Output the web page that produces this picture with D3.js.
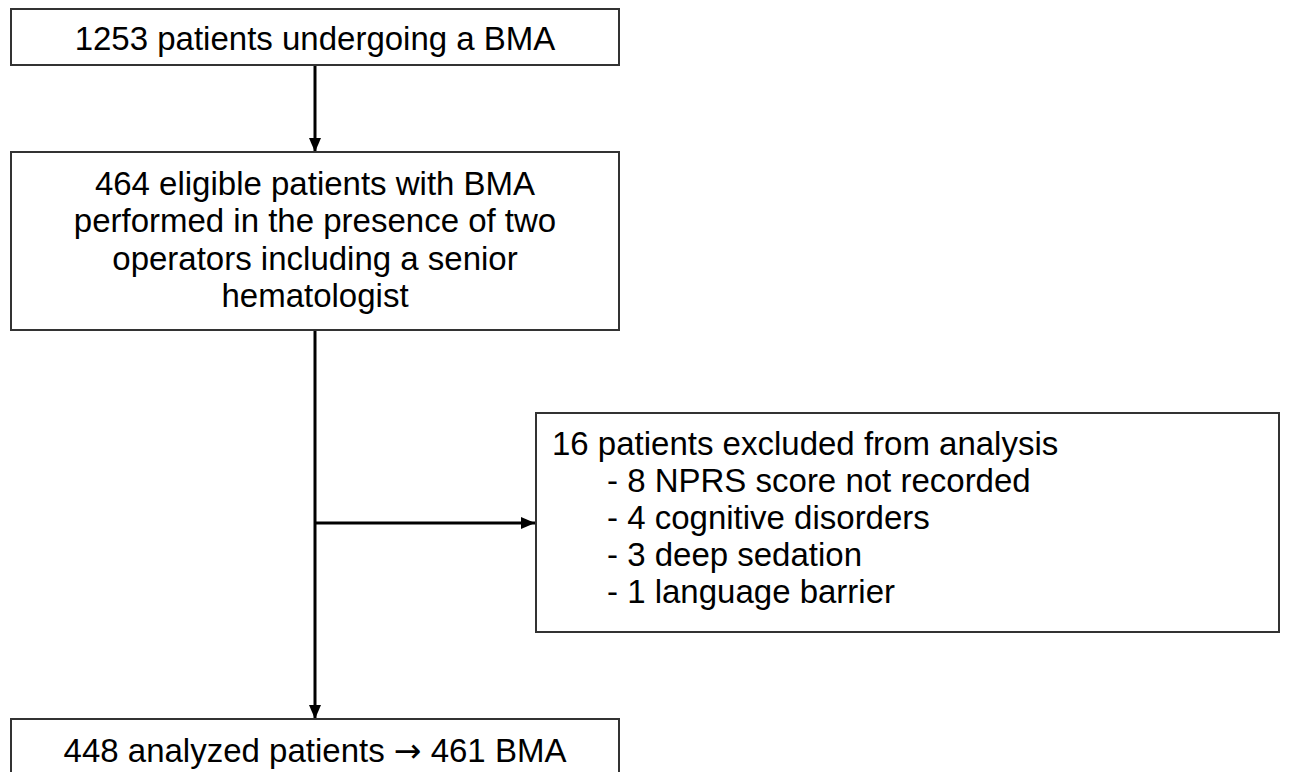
<!DOCTYPE html>
<html>
<head>
<meta charset="utf-8">
<script src="https://cdn.jsdelivr.net/npm/d3@7"></script>
<style>
  body { margin: 0; background: #fff; }
  svg { display: block; }
  .box { fill: #fff; stroke: #333; stroke-width: 2; }
  .flow { stroke: #000; stroke-width: 3; fill: none; }
  text { font-family: "Liberation Sans", Arial, sans-serif; font-size: 33px; fill: #000; }
  .sym { font-family: "DejaVu Sans", sans-serif; }
</style>
</head>
<body>
<script>
// flowchart texts
const screenedLines = ['1253 patients undergoing a BMA'];
const eligibleLines = [
    '464 eligible patients with BMA',
    'performed in the presence of two',
    'operators including a senior',
    'hematologist'
];
const excludedHeader = ['16 patients excluded from analysis'];
const exclusionReasons = [
    '- 8 NPRS score not recorded',
    '- 4 cognitive disorders',
    '- 3 deep sedation',
    '- 1 language barrier'
];
const analyzedLines = ['448 analyzed patients \u2192 461 BMA'];

const width = 1289, height = 772;

// layout of the boxes (pixels)
const layout = {
    screened: { x: 11, y: 9, w: 608, h: 56, firstBaseline: 50, step: 37.3, anchor: 'middle' },
    eligible: { x: 11, y: 152, w: 608, h: 178, firstBaseline: 195, step: 37.3, anchor: 'middle' },
    excluded: { x: 536, y: 413, w: 743, h: 219, firstBaseline: 455, step: 37, anchor: 'start' },
    analyzed: { x: 11, y: 719, w: 608, h: 80, firstBaseline: 762, step: 37, anchor: 'middle' }
};

const svg = d3.select('body').append('svg')
    .attr('width', width)
    .attr('height', height);

svg.append('defs').append('marker')
    .attr('id', 'head')
    .attr('viewBox', '0 0 14 12')
    .attr('refX', 14)
    .attr('refY', 6)
    .attr('markerUnits', 'userSpaceOnUse')
    .attr('markerWidth', 14)
    .attr('markerHeight', 12)
    .attr('orient', 'auto')
    .append('path')
    .attr('d', 'M0,0 L14,6 L0,12 Z')
    .attr('fill', '#000');

const spineX = layout.screened.x + layout.screened.w / 2;

/**
 * draws one box with its text lines, arrows inside a line get a wider font
 */
function drawBox(key, lines) {
    const b = layout[key];
    const g = svg.append('g').attr('class', 'node-' + key);
    g.append('rect')
        .attr('class', 'box')
        .attr('x', b.x).attr('y', b.y)
        .attr('width', b.w).attr('height', b.h);

    g.selectAll('text')
        .data(lines)
        .enter().append('text')
        .attr('x', b.anchor === 'middle' ? b.x + b.w / 2 : b.x + 16)
        .attr('y', (d, i) => b.firstBaseline + i * b.step)
        .attr('text-anchor', b.anchor)
        .each(function (d) {
            const t = d3.select(this);
            d.split(/(\u2192)/).forEach(part => {
                if (!part) return;
                t.append('tspan')
                    .attr('class', part === '\u2192' ? 'sym' : null)
                    .text(part);
            });
        });
    return g;
}

// connectors
const links = [
    [[spineX, layout.screened.y + layout.screened.h], [spineX, layout.eligible.y]],
    [[spineX, layout.eligible.y + layout.eligible.h], [spineX, layout.analyzed.y]],
    [[spineX, 523], [layout.excluded.x - 1, 523]]
];
const line = d3.line();
svg.selectAll('path.flow')
    .data(links)
    .enter().append('path')
    .attr('class', 'flow')
    .attr('d', d => line(d))
    .attr('marker-end', 'url(#head)');

drawBox('screened', screenedLines);
drawBox('eligible', eligibleLines);
drawBox('analyzed', analyzedLines);

const ex = drawBox('excluded', excludedHeader);
ex.selectAll('text.reason')
    .data(exclusionReasons)
    .enter().append('text')
    .attr('class', 'reason')
    .attr('x', 607)
    .attr('y', (d, i) => layout.excluded.firstBaseline + (i + 1) * layout.excluded.step)
    .text(d => d);
</script>
</body>
</html>
